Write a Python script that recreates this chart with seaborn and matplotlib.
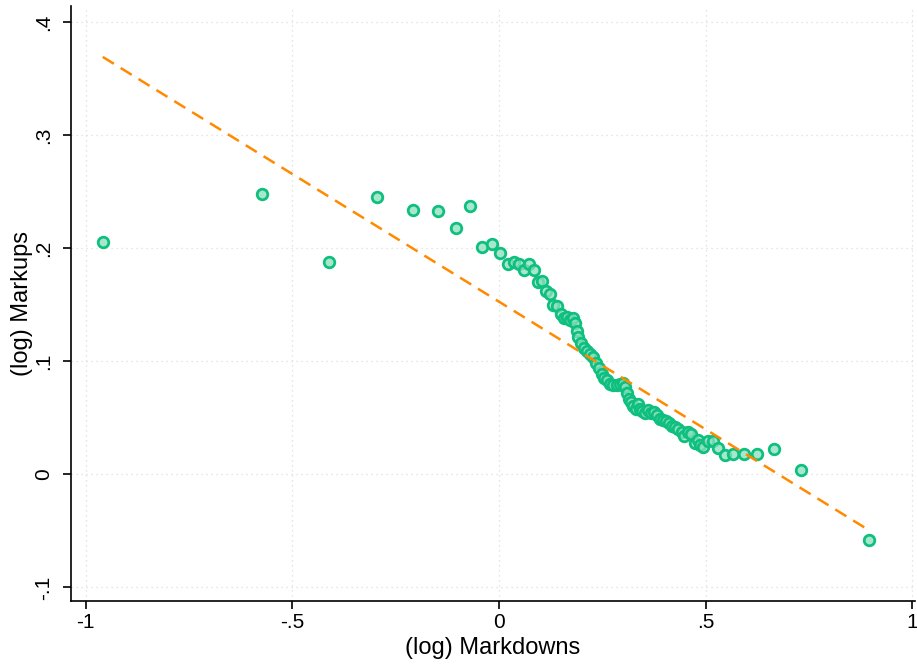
import numpy as np
import pandas as pd
import matplotlib
matplotlib.use("Agg")
import matplotlib.pyplot as plt
import seaborn as sns

# Binned means: (log) markdowns vs (log) markups
markdowns = [
    -0.959, -0.574, -0.412, -0.295, -0.208, -0.148, -0.104, -0.070, -0.041, -0.017,
    0.002, 0.022, 0.036, 0.048, 0.061, 0.073, 0.085, 0.094, 0.104, 0.114,
    0.123, 0.131, 0.140, 0.150, 0.157, 0.165, 0.172, 0.179, 0.184, 0.189,
    0.191, 0.199, 0.206, 0.213, 0.220, 0.228, 0.235, 0.242, 0.249, 0.254,
    0.262, 0.269, 0.276, 0.286, 0.293, 0.300, 0.305, 0.310, 0.315, 0.320,
    0.324, 0.332, 0.337, 0.341, 0.346, 0.354, 0.361, 0.368, 0.375, 0.383,
    0.390, 0.397, 0.404, 0.412, 0.419, 0.426, 0.433, 0.443, 0.448, 0.458,
    0.465, 0.475, 0.482, 0.487, 0.494, 0.506, 0.518, 0.530, 0.547, 0.567,
    0.593, 0.625, 0.666, 0.731, 0.896,
]
markups = [
    0.205, 0.248, 0.188, 0.245, 0.234, 0.233, 0.218, 0.237, 0.201, 0.204,
    0.196, 0.186, 0.188, 0.186, 0.181, 0.186, 0.181, 0.170, 0.171, 0.162,
    0.159, 0.150, 0.149, 0.142, 0.138, 0.139, 0.136, 0.138, 0.134, 0.127,
    0.121, 0.116, 0.112, 0.109, 0.106, 0.104, 0.098, 0.094, 0.089, 0.085,
    0.083, 0.080, 0.079, 0.079, 0.080, 0.081, 0.077, 0.072, 0.067, 0.064,
    0.060, 0.058, 0.062, 0.058, 0.056, 0.054, 0.057, 0.054, 0.055, 0.052,
    0.049, 0.048, 0.047, 0.045, 0.043, 0.042, 0.040, 0.037, 0.034, 0.037,
    0.036, 0.028, 0.030, 0.026, 0.024, 0.029, 0.029, 0.023, 0.017, 0.018,
    0.018, 0.018, 0.022, 0.004, -0.058,
]

# Linear fit
fit_intercept = 0.1526
fit_slope = -0.2256

x_ticks = [-1, -0.5, 0, 0.5, 1]
x_ticklabels = ["-1", "-.5", "0", ".5", "1"]
y_ticks = [-0.1, 0, 0.1, 0.2, 0.3, 0.4]
y_ticklabels = ["-.1", "0", ".1", ".2", ".3", ".4"]

df = pd.DataFrame({"markdowns": markdowns, "markups": markups})
fit_x = np.array([min(markdowns), max(markdowns)])
fit_df = pd.DataFrame({"markdowns": fit_x, "fit": fit_intercept + fit_slope * fit_x})

sns.set_theme(style="white")
plt.rcParams["font.family"] = ["Liberation Sans", "DejaVu Sans"]

fig = plt.figure(figsize=(9.17, 6.64), dpi=100)
ax = fig.add_axes([0.0774, 0.0949, 0.9204, 0.8961])

green_edge = "#0fbf7f"
green_face = (0.55, 0.88, 0.74, 0.75)

sns.scatterplot(data=df, x="markdowns", y="markups", ax=ax, s=58,
                facecolor=green_face, edgecolor=green_edge, linewidth=2.0,
                zorder=3, legend=False)
sns.lineplot(data=fit_df, x="markdowns", y="fit", ax=ax, color="#ff8a00",
             linewidth=1.8, linestyle=(0, (5.2, 3.2)), zorder=4)

ax.set_xlim(-1.036, 1.007)
ax.set_ylim(-0.112, 0.414)
ax.set_xticks(x_ticks)
ax.set_xticklabels(x_ticklabels)
ax.set_yticks(y_ticks)
ax.set_yticklabels(y_ticklabels, rotation=90, va="center")

ax.grid(True, color="#dddddd", linestyle=(0, (1, 3)), linewidth=0.9)
ax.set_axisbelow(True)

for side in ["top", "right"]:
    ax.spines[side].set_visible(False)
for side in ["left", "bottom"]:
    ax.spines[side].set_color("black")
    ax.spines[side].set_linewidth(1.2)

ax.tick_params(axis="both", which="major", direction="out", length=6,
               width=1.2, color="black", labelsize=15, labelcolor="black",
               bottom=True, left=True)
ax.tick_params(axis="y", pad=7)
ax.tick_params(axis="x", pad=3)

ax.set_xlabel("(log) Markdowns", fontsize=17, color="black", labelpad=3)
ax.set_ylabel("(log) Markups", fontsize=17, color="black", labelpad=1)

fig.savefig("out.png", dpi=100, facecolor="white")
